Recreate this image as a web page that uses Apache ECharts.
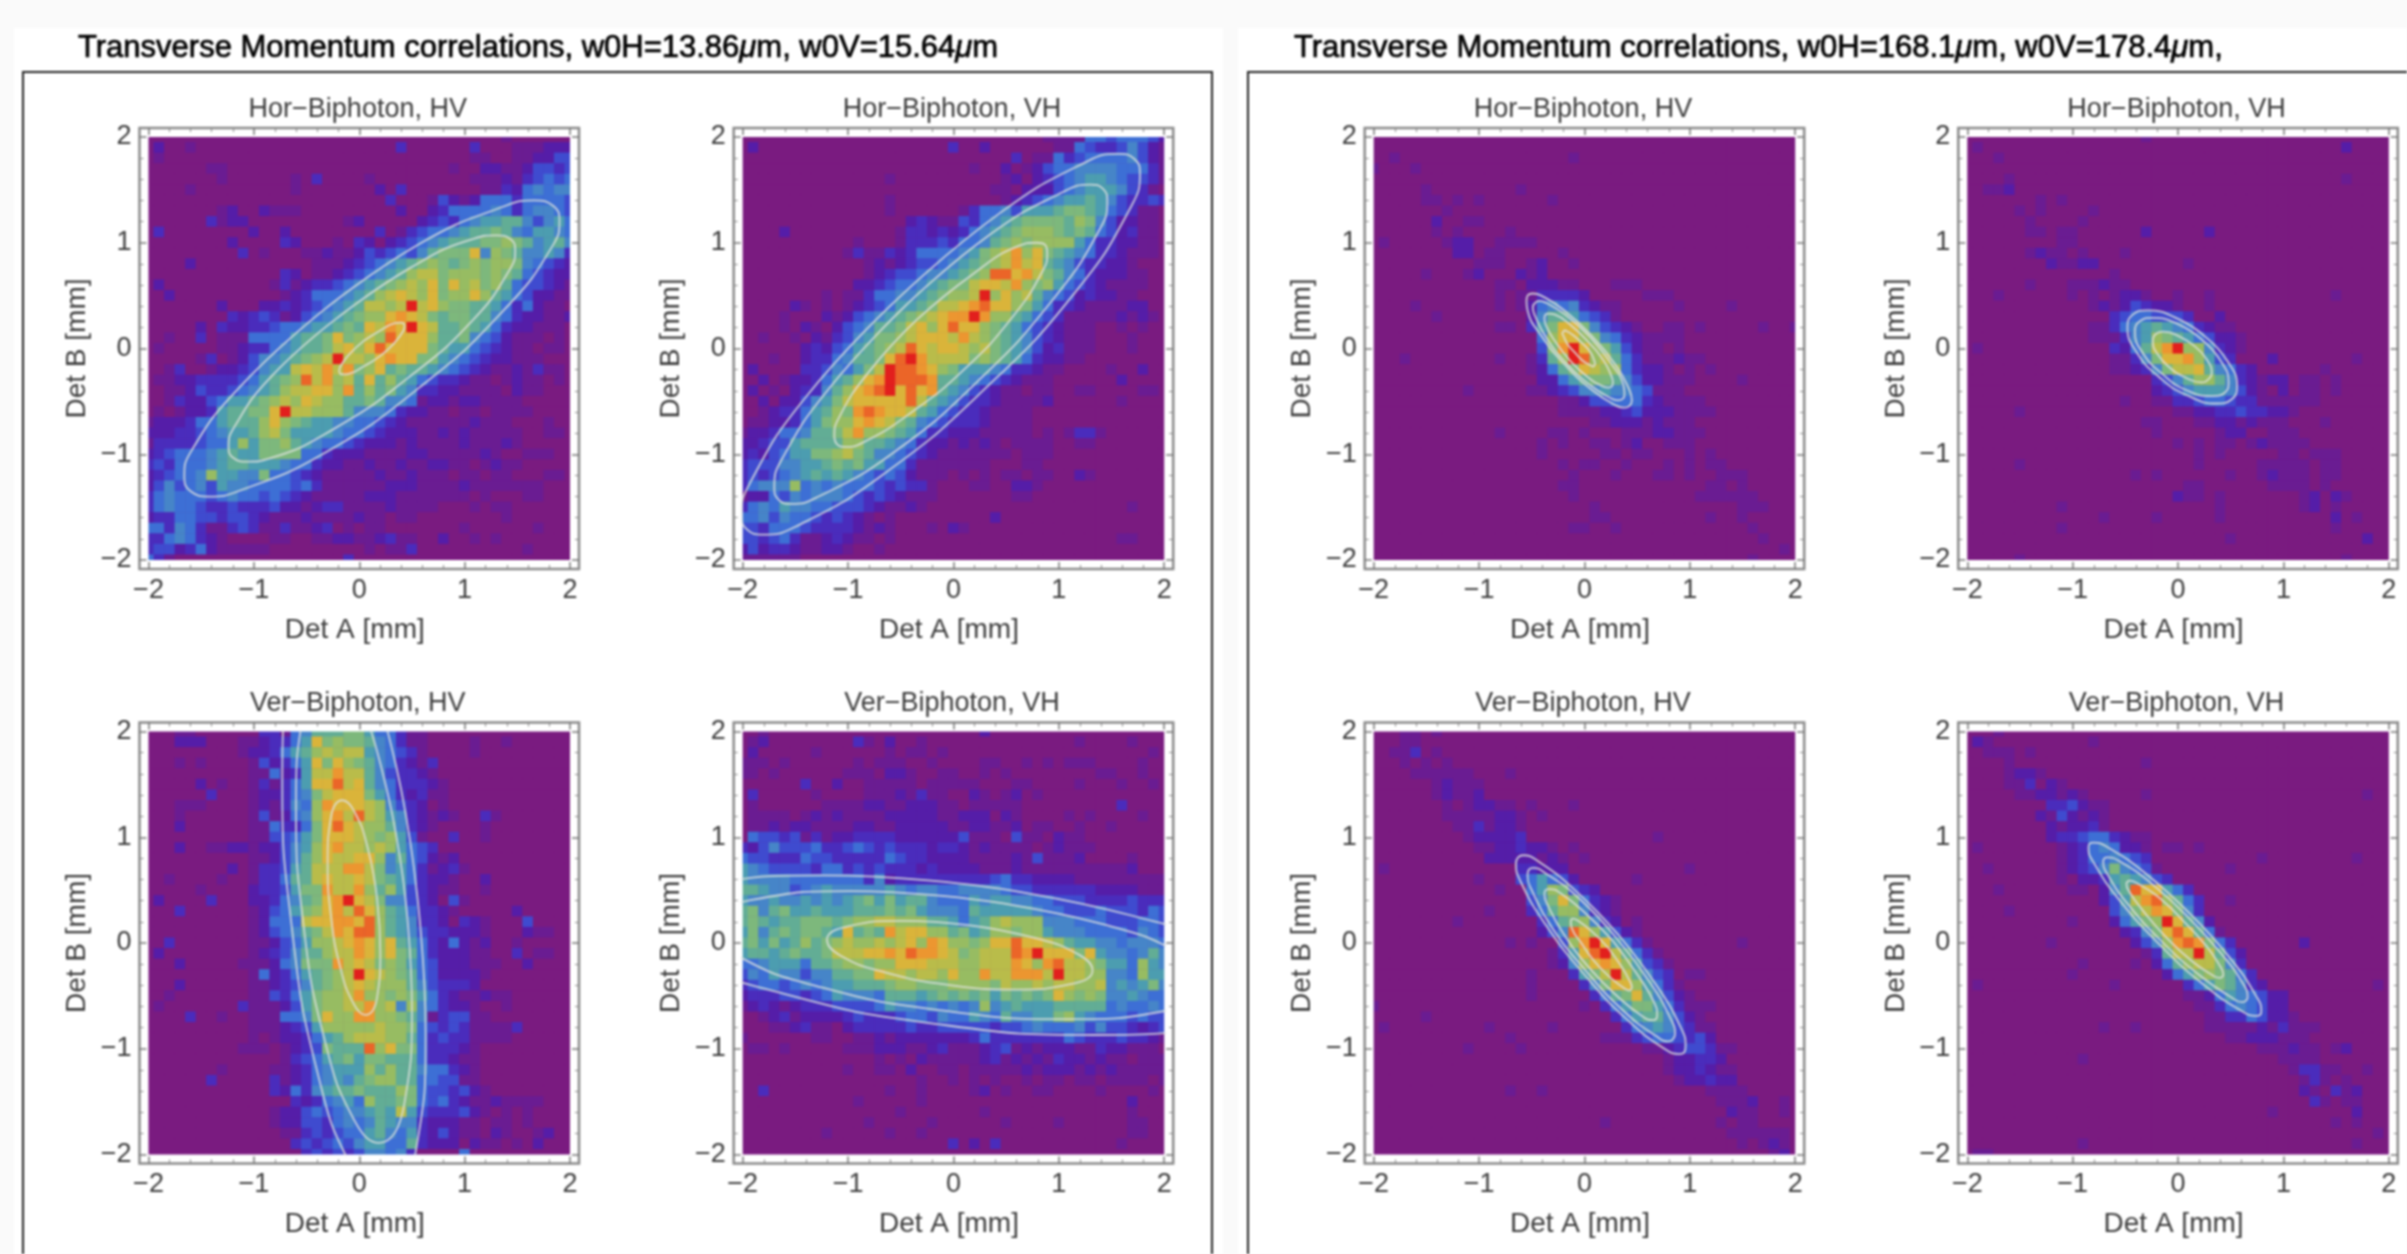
<!DOCTYPE html>
<html><head><meta charset="utf-8">
<style>html,body{margin:0;padding:0;background:#fafafa;overflow:hidden}#c{width:2407px;height:1254px;filter:blur(0.8px)}</style>
<script src="https://cdn.jsdelivr.net/npm/echarts@6/dist/echarts.min.js"></script>
</head><body><div id="c"></div>
<script>
const binLabels=[];for(let i=0;i<41;i++)binLabels.push(String(i));
const colorRamp=['#7A1B80','#6A1C92','#551DA8','#4A2CBC','#3F4BCF','#3D6FD5','#4685C8','#4C9DB0','#62AD95','#7DB87C','#97BC62','#B9BC4A','#DAB43A','#EC9630','#EB6528','#E21F1D'];
const titleLeft=['Transverse Momentum correlations, w0H=13.86','m, w0V=15.64','m'];
const titleRight=['Transverse Momentum correlations, w0H=168.1','m, w0V=178.4','m,'];
const plotTitles=['Hor\u2212Biphoton, HV','Hor\u2212Biphoton, VH','Ver\u2212Biphoton, HV','Ver\u2212Biphoton, VH'];

const wideHorHV=[
"0000000000 0000000000 0000000000 0000100000 0",
"0200100000 0000000000 0000300000 0300011122 2",
"0100000000 0000000000 0000000000 0110011224 4",
"0000001100 0000000000 0000000001 0022112443 4",
"0000000100 0000103000 0100000000 0111213454 5",
"0000100000 0000100000 0020300000 0011325656 6",
"0000000000 0000000000 0003000142 1255535555 4",
"0000000120 0211100000 0000200235 5556535665 4",
"0000003122 0000000001 2000002343 5677886467 5",
"0300000000 2002000000 0030134556 7889865776 5",
"0000000020 0003200010 3202345678 8899a98678 6",
"0000000003 0100011211 2434546899 9c6a986676 3",
"0000200000 0000001112 3456789a98 9a9aa96543 2",
"0000000000 0003201123 45678abb9a aa9a985432 2",
"0200000000 0013123345 6789abac9c ab9a854432 1",
"0020000000 0001235556 78abcbac9a aca8754221 1",
"0000000200 0223234567 8bbabfbca9 9887535211 0",
"0000000032 3431245678 9aacdcb989 9886532211 2",
"0000020322 3345567789 8cbdcfcb88 9875322111 0",
"0010030111 55557889c9 abaeccca88 9654211101 0",
"0100000112 33567889bc acecccc987 7543211011 0",
"0000013012 466789abfb bacdcc9976 5432211100 0",
"0013001223 4677bcbdbd 9ac8988765 4321121311 0",
"0112233334 5789aebdab 8c8a875433 2110121101 0",
"0011243345 678abbccad 8a89763322 1111021100 0",
"0013224577 89abacbaa8 8986651221 2211110000 0",
"0101223788 99cfbbaaa8 6665322110 1101111000 0",
"1222355788 8aca987766 5543211111 1211100010 0",
"2223345677 8ab9777765 5432221121 2111110011 0",
"133334557a 799a876554 3222121111 2111210000 0",
"2345556787 7999955322 2111122111 1121001110 0",
"3435556788 7776553221 1211211221 1012110000 0",
"234556a776 6955432111 1121121110 1101100011 0",
"2464564766 5555453111 1112221111 2111111100 0",
"3565554565 5454321111 1222111111 1010001100 0",
"3565543343 3342212331 1112111100 0101100000 0",
"2335544344 3211121111 2110110000 0000100000 0",
"5536531134 3113112301 0110000000 1000000100 0",
"3356532100 0011001122 1123110020 0101000000 0",
"3442352111 1100000000 0101130000 0000001000 0",
"5310000000 0000000003 0000000000 0000000000 0"];

const wideHorVH=[
"0000000000 0000000000 0000000001 1115545554 2",
"0200000000 0000000000 3002000000 1154334642 1",
"0000000000 0000000000 0000003011 5345555642 1",
"0000000000 0000000000 0010020124 5566665553 1",
"0000000000 0000100000 0000012023 4567765443 1",
"0000000000 0000000000 0000110222 4567776431 0",
"0000000000 0000100000 0000012345 6778764334 3",
"0000000000 0000100000 0135564777 8998754311 0",
"0000000000 0000002321 1435678999 98a9642211 0",
"0000200000 0000013323 2356789aaa 9898542311 0",
"0000000000 0100013334 355689a9aa aa75332211 0",
"0000000000 1311323555 5679abdac9 8765332111 0",
"0000000000 0012123445 6789abdbc8 7643322100 0",
"0000000000 0012344566 789aeecdb9 8653222110 0",
"0000000000 0223455678 99bccbda9a 7543211110 0",
"0000000010 1135566789 aabfacab86 5423221100 0",
"0000021010 123457789b bcdecca975 3321111220 0",
"0000100021 2456789abc ddfdaa8754 3111112121 0",
"0000102102 456889bcac ecca987543 2111001010 0",
"0010010213 46799abccc bdba987643 2111000100 0",
"0000002324 5789abecbc cbab987642 3111000100 0",
"0001002335 6889cefdbb bb9a987532 2110000000 0",
"0200003346 579bfeedca 9777653321 1000010020 0",
"0020122357 8acdfeeed8 8765432111 0000002000 0",
"0201023368 acdefcecd8 7643211011 0011000011 0",
"0020224679 bccccceb87 6433211112 0000001000 0",
"001233578a 9dedccb875 4332111100 0000000000 0",
"011223579a acdcb98654 3332111100 0000000000 0",
"1223556889 bdaa987533 2221111101 0133100000 0",
"2234478888 aa88765322 1212101111 0011000000 0",
"232457799a b986654321 1111110111 0000000000 0",
"3444667789 8977553111 1111000110 0000000000 0",
"3434567878 7654542111 0101011011 0021000000 0",
"35666a5656 5554343310 0011002210 0000000000 0",
"1225465666 5434321110 0000001100 0000000000 0",
"3565766554 4432112100 0000000000 0000000100 0",
"5564655434 3210100000 0000200000 0000000000 0",
"4435554333 3212100010 2100000000 0000000000 0",
"4434531123 2110100000 0000000000 0000001100 0",
"2423321122 1001000000 0000000000 0000000000 0",
"1111110000"];

const wideVerHV=[
"0001100000 0331568889 9755311000 0000000000 0",
"0002220001 123357c9a9 9865311000 0100100000 0",
"0000000001 223578abab b765431000 0100000000 0",
"0001010000 142357c9ca 9865321300 0000000000 0",
"0000000000 115237bbdb b864332100 0000000000 0",
"0000020100 131357cceb c865333210 0000000000 0",
"0000003000 1223569bcc c975323110 0000000000 0",
"0001110000 121365adcc cba6432010 0000000000 0",
"0001000000 141256acdb eba7632121 0031000000 0",
"0002000000 1153359cec baa8632100 0010000000 0",
"0000000000 1144579ccc ba9a741003 0010000000 0",
"0002001122 122467acdb baba754300 0000000000 0",
"0000000000 112468acbb cca6854212 0000000000 0",
"0000000020 133478bbbd db96753123 1000000000 0",
"0010000100 133588bcbb cb98753221 0020000000 0",
"0000010000 2334799dbb da8a743211 0010000000 0",
"0200003000 2235689cdf cb96643204 1000000000 0",
"0003000000 124579acdb eca8753321 0000020000 0",
"0000000000 12555bccdd cea8763320 3210004000 0",
"0000000000 1245689bdc eea8764332 2210002110 0",
"0030000000 112457aabc dcac875325 2120010000 0",
"0200000000 1234688abb dcac985322 2110030110 0",
"0002000001 11256999db cb9a975422 2111002000 0",
"0000000000 15235789ab fcba985422 2210000000 0",
"0002000000 11234689ab cbaaa86433 3200000000 0",
"0010000000 1143579aab daa9a97532 1121100000 0",
"0100000003 1112479aab bdab6a6532 2100100000 0",
"0000300100 1115569caa ddaa986134 4110000000 0",
"0000000000 1112347aaa aabaa95434 3111130000 0",
"0000000000 101223578a bbbaa85343 3111100000 0",
"0000000001 1101234988 8eac995333 2100000000 0",
"0000000000 0001345789 7998885332 1100000000 0",
"0000000100 0011235677 7a8a886553 2100000000 0",
"0000003000 0031235676 89aa885544 1100000000 0",
"0000000000 0032536788 9888a95443 4210000000 0",
"0000000000 0000323567 5a88995453 2112111100 0",
"0000000000 0012245456 6787b74333 4210101000 0",
"0000000000 0012244356 5687663222 1101101000 0",
"0000000000 0001134345 5786573242 1102100120 0",
"0000000000 0000343454 6775583222 0211010200 0",
"0000000000 0000034343 4665630000 5000000000 0"];

const wideVerVH=[
"0010000000 0000000000 0002000000 0000000000 0",
"0120000000 0310200100 0000000000 0010000100 0",
"0200000100 0000101101 0000000000 0000000001 0",
"1110100000 0101110010 0001100101 0111000010 0",
"1101000000 1110221001 1001010000 0000110010 0",
"0000003002 0011111011 1110001100 0010001001 0",
"0300000100 0011121311 0021012010 0000000000 0",
"0100000011 1122112221 1011111000 0000003000 0",
"0111101212 1111222221 1222021000 0101000010 0",
"0112122111 1221122222 1122112011 0010010000 0",
"0544341312 2333322222 2411104110 2110000000 0",
"3246444533 4543433323 3212111101 2111000000 0",
"5443335443 3333543322 2211112141 1120000100 0",
"7654444355 3434333232 2221112111 1111111200 0",
"7666655555 5536233333 3333453322 2211111111 1",
"8876645676 6666765665 5666654433 3333222211 1",
"7667667676 7897978865 5576776655 4443333433 3",
"8968977877 7888989766 6587777765 5444544435 4",
"8987889998 9aabbaaa88 7578abaaa6 6655544455 4",
"7968989987 c898dbccaa 8978aa9aa7 6665555465 4",
"897978a89a baababcadc aa9acceccb a877665666 5",
"788789889b bbccdceddc b9abbbedfc cc9c766568 6",
"5567775889 aa9aacccbb baabbbdcad ebba9775a7 6",
"4657664668 899cbbabba caadbbdddb fbbaa665a7 7",
"3455456567 78889aa999 aaaa9baaba bbaab67679 6",
"2333443457 6665888789 8989798989 ca9a966765 5",
"1232123334 4445766565 656a678777 8888856556 5",
"0012312222 3433345546 5576586677 9a76555454 4",
"0001123110 2333334334 4444344565 5564644323 4",
"1000000110 0112122222 2235333333 3543334332 1",
"0110100000 1112221123 1112341212 2211322111 0",
"0000000000 0001010211 1112312121 3221211011 1",
"0000000000 1001102001 1011111212 2212121111 1",
"0000000000 0000000100 1010100101 1011011110 1",
"0030000000 0000100100 0012010011 0000100001 0",
"0000000000 0100000100 0000000000 0000000200 0",
"0000000000 0000010000 0001000000 0000000100 0",
"0000000000 0010000010 0000010000 1000000110 0",
"0000000010 0000100100 0000000000 0000000110 0",
"0000000000 0000000000 3020300000 0000001000 0",
""];

const narrowHorHV=[
"","",
"0010000000 0000000001",
"1000100000",
"",
"0000010000 0000100000",
"0000011010 1000000100",
"0000000100",
"0000002001 1000000000",
"0000001010 0001000000",
"0100000122 0011110000",
"0000000022 0110000010",
"0000000000 1110012001",
"0000010001 2000212000",
"0 0000000000 0110222110 0011100000",
"0 0000000000 0101133332 0000011100",
"0 0001000000 0101256563 2110000010 0001000000",
"0 0000010000 0000268875 4310000000",
"0 0000000000 0110379cc9 6432100110 1000001001",
"0 0000000000 000005acca 9653211110",
"0 0000000000 0000049dfc a974211010",
"0 0010000000 0100138afe ab85311121 1000000000",
"0 0000000000 000012589c baa5322101 0100000000",
"0 0000000000 0000022578 9986422111 0000100000",
"0 0000000010 0000112346 6766541110",
"0 0000000000 0000000112 4455532111 1000000000",
"0 0000000000 0000000111 1223422211 1100000000",
"0000000000 0000000000 0112221211 1000000000",
"0000000000 0010000110 1000111221 1100000000",
"0000000000 0000001010 0110120011 1000000000",
"0000000000 0000001000 0011011000 1010000000",
"0000000000 0000000010 1100100010 1011000000",
"0000000000 0000000001 0001000110 1001110000",
"0000000000 0000000011 0000000000 0011010000",
"0000000000 0000000001 0000000000 0111111000",
"0000000000 0000000000 0100000000 0000011100",
"0000000000 0000000000 0110000000 0010010000",
"0000000000 0000000001 1001000000 0000001000",
"0000000000 0000000000 0000000000 0000000100",
"0000000000 0000000000 0000000000 0000000001",
"0000000000 0000000000 0000000000 0000001000"];

const narrowHorVH=[
"0000000000 0000000100",
"0100000000 0000000000 0000000000 0000002000",
"0001000000",
"",
"0000100000 0000000000 0000000000 0000001000",
"0011200000",
"0000000101",
"0000010100 0010000000",
"0000001000 0100000000",
"0000001101 1000000200 0002000000",
"0000000001 1000000000",
"0000001211 0100010000",
"0000000021 1220000000 0100000000",
"0000000000 0000100000",
"0000001000 1112110000",
"0001000000 1010122100 1001000000 0000010000",
"0000000000 0012124322 1001000000",
"0000000000 0000345544 4300200000",
"0000000000 0011356787 6532110000",
"0000000000 00111367a9 8754221000",
"0100000000 00003258bd faa6321000",
"0000000000 000011369c cda7430002 0000000100",
"0000000000 0000112369 bbc8653200 0000100000",
"0000000000 0000000034 68aa863212 2011010000",
"0000000000 0000000023 4677764210 2011010000",
"0000000000 0000010011 3345543311 1111000000",
"0000010000 0000000000 1122334332 2100000000",
"0000000000 0000000110 0011221211 1000100000",
"0000000000 0000000010 0000122001 1100000000",
"0000000000 0000000000 1010110121 1110000000",
"0000000000 0000000000 0010100000 1101110000",
"0000010000 0000000000 0010000011 1110110000",
"0000000000 0000001010 0000010012 1110110000",
"0000000000 0000000000 0110000001 1110100000",
"0000000000 0000000000 2110100000 0012021000",
"0000000001 0000000000 0000100000 0012010000",
"0000000000 0001000010 0000100000 0000020100",
"0000000001 0000000000 0000000000 0000010000",
"0000000000 0000000000 0000010000 0000000020",
"",
"0000010000 0000000000 0000000000 0000001000"];

const narrowVerHV=[
"0001101000",
"0001100000",
"0011301000",
"0001010100",
"0000111111 0001000000",
"0000001211 1000000000",
"0000001211 2000000000",
"0000000101 2211010001",
"0000000111 1122101000",
"0000000011 3122100000",
"0000000001 2222300000 0000000100",
"0000000000 1122322101",
"0000000000 0222221210 1000000000",
"0100000000 0000332220 0000000000 1000000000",
"0000000000 1000457542 0000010000",
"0000000000 0010057a94 3200000000",
"0000000000 00000469c9 5321000000",
"0000000000 01000358aa 6321000000",
"0000000010 0000003589 a632010000",
"0000000000 000000246e ca74210000",
"0000000000 000101004a dfc7531000 0000010000",
"0000000000 0000000137 cefb853100",
"0000000000 0000000126 acdca74310",
"0000000000 0000010003 79bfb86430 1100000000",
"0000000000 0000010000 369cca7531",
"0000000000 0000010000 03589c8642 1000000000",
"1000000000 0000000000 1035799753 1110000000",
"0000010000 0000000000 0003578864 2100000000",
"0100000000 0100000100 0000356764 3110000000",
"0000000000 0001000000 0011134554 3420000000",
"0000000001 0000100000 0000001123 4431100000",
"0000000000 0000000000 0000000012 2332000000",
"0000000000 0000000000 0000000012 2321100000",
"0000000000 0000000000 0000000001 2232200000",
"0000000000 0001001000 0000000000 0011110000",
"0000000000 0000000000 0000000000 0001112001",
"0000000000 0000000000 0000000000 0000211001",
"0000000000 0000000000 0010000000 0001011000",
"0000000000 0000000000 0000000000 0000111111",
"0000000000 0000000000 0000000000 0000010121",
"0000000000 0000000000 0000000000 0000000012"];

const narrowVerVH=[
"0001000000",
"0210000000 0010000000",
"0011101000",
"0000100000 0000000100",
"0000122100",
"0000113021",
"0000011221 2100000100 0000000000 0000000010",
"0000000033 4211000000",
"0000000214 2121000000",
"0000000021 2231000000",
"0000000023 3455321100",
"0100000001 2356522101 1010000000",
"0000000001 2355654300 0000000010 0000000100",
"0010000001 2346965410 0000010000",
"0000000001 0223787643",
"0001000000 110268ecc7 5300000000",
"0000000000 000247bdea 8530010000",
"0000100000 0000469bdc 9630000000",
"0000000000 10002579af c862000000",
"0000000000 000002369c ec85100000",
"0000000010 000000246a ded9530000 0020000000",
"0000000000 0000000138 bbfb842000",
"0000000000 0100001025 8abb963000",
"0000000000 1000000002 579a985300",
"0100000000 0000100000 0357986320 0000000001",
"0000000000 0000000000 0112576542 2000000000",
"0000000000 0000000000 0011356542 2000000000",
"0000000000 0000000000 0001133542 2100000000",
"0000000000 0001001000 0001111121 3111000000",
"0000000000 0000000000 0000011222 1110000000",
"0000000000 0000000000 0000000011 1211012000",
"0000000000 0100000000 0000000000 1111000000",
"0000000000 0000000000 0000000000 0133110010",
"0000000000 0000000000 0000000000 0013101000",
"0000000000 0000000000 0000000000 0021031200",
"0000000000 0000000000 0000000000 0003101100",
"0000000000 0000000000 0000000001 0000000200",
"0000000000 0000000000 0000000000 0000010100",
"0000000000 0000000000 0000000000 0000000001",
"0000000000 0100000000 0000000000 0000000100",
"0110000000"];

const ringsWideHorHV=[
[[-.33,.37],[.59,1.0],[1.39,1.35],[1.66,1.4],[1.84,1.35],[1.9,1.21],[1.84,.98],[1.37,.36],[.57,-.37],[-.35,-1.0],[-1.15,-1.35],[-1.42,-1.4],[-1.6,-1.35],[-1.66,-1.21],[-1.6,-.98],[-1.13,-.36]],
[[-.22,.28],[.48,.76],[1.09,1.04],[1.3,1.07],[1.44,1.03],[1.48,.93],[1.43,.75],[1.08,.27],[.46,-.28],[-.24,-.76],[-.85,-1.04],[-1.06,-1.07],[-1.2,-1.03],[-1.24,-.93],[-1.19,-.75],[-.84,-.27]],
[[.04,.07],[.2,.17],[.34,.24],[.39,.245],[.42,.24],[.43,.21],[.42,.17],[.34,.06],[.2,-.07],[.04,-.17],[-.1,-.24],[-.15,-.245],[-.18,-.24],[-.19,-.21],[-.18,-.17],[-.1,-.06]]];
const ringsWideHorVH=[
[[-.54,.46],[.44,1.28],[1.27,1.77],[1.57,1.84],[1.72,1.79],[1.77,1.66],[1.69,1.35],[1.17,.55],[.3,-.38],[-.68,-1.2],[-1.51,-1.69],[-1.81,-1.76],[-1.96,-1.71],[-2.01,-1.58],[-1.93,-1.27],[-1.41,-.47]],
[[-.47,.39],[.35,1.08],[1.04,1.48],[1.3,1.55],[1.42,1.51],[1.46,1.39],[1.39,1.13],[.95,.47],[.23,-.31],[-.59,-1.0],[-1.28,-1.4],[-1.54,-1.47],[-1.66,-1.43],[-1.7,-1.31],[-1.63,-1.05],[-1.19,-.39]],
[[-.35,.27],[.18,.7],[.62,.97],[.79,1.0],[.87,.98],[.89,.9],[.85,.74],[.57,.31],[.11,-.19],[-.42,-.62],[-.86,-.89],[-1.03,-.93],[-1.11,-.9],[-1.13,-.83],[-1.09,-.66],[-.81,-.23]]];
const ringsWideVerHV=[
[[.17,.41],[.08,.9],[-.05,1.25],[-.16,1.35],[-.27,1.18],[-.3,.77],[-.27,.27],[-.18,-.23],[-.05,-.58],[.06,-.68],[.17,-.51],[.2,-.1]],
[[.43,.49],[.23,1.58],[-.05,2.34],[-.29,2.56],[-.53,2.18],[-.6,1.3],[-.53,.18],[-.33,-.91],[-.05,-1.67],[.19,-1.89],[.43,-1.51],[.5,-.63]],
[[.54,.53],[.3,1.88],[-.05,2.81],[-.34,3.09],[-.64,2.62],[-.73,1.53],[-.64,.15],[-.4,-1.21],[-.06,-2.14],[.24,-2.42],[.54,-1.95],[.63,-.86]]];
const ringsWideVerVH=[
[[.14,.17],[.76,.05],[1.19,-.11],[1.32,-.26],[1.11,-.39],[.61,-.44],[-.02,-.4],[-.64,-.28],[-1.07,-.12],[-1.2,.03],[-.99,.16],[-.49,.21]],
[[.21,.41],[1.37,.19],[2.17,-.11],[2.42,-.38],[2.02,-.64],[1.1,-.72],[-.09,-.64],[-1.25,-.42],[-2.05,-.12],[-2.3,.15],[-1.9,.41],[-.98,.49]],
[[.25,.54],[1.69,.26],[2.7,-.11],[3.0,-.45],[2.51,-.77],[1.35,-.87],[-.13,-.77],[-1.57,-.49],[-2.58,-.12],[-2.88,.22],[-2.39,.54],[-1.23,.64]]];
const ringsNarrowHorHV=[
[[.07,.12],[-.19,.36],[-.41,.5],[-.49,.52],[-.54,.5],[-.55,.45],[-.54,.36],[-.41,.12],[-.18,-.16],[.08,-.4],[.3,-.54],[.38,-.56],[.43,-.54],[.45,-.49],[.43,-.4],[.3,-.16]],
[[.06,.1],[-.17,.31],[-.36,.43],[-.43,.45],[-.47,.43],[-.49,.39],[-.47,.31],[-.36,.1],[-.17,-.14],[.06,-.35],[.25,-.47],[.32,-.49],[.37,-.47],[.38,-.43],[.37,-.35],[.25,-.14]],
[[.03,.07],[-.14,.23],[-.28,.32],[-.34,.33],[-.37,.32],[-.38,.285],[-.37,.23],[-.28,.07],[-.14,-.11],[.03,-.27],[.18,-.36],[.23,-.37],[.26,-.36],[.27,-.32],[.26,-.27],[.18,-.11]],
[[-.01,.04],[-.1,.12],[-.16,.16],[-.19,.17],[-.2,.16],[-.21,.145],[-.2,.12],[-.16,.04],[-.09,-.04],[-.01,-.12],[.06,-.16],[.08,-.17],[.095,-.16],[.1,-.145],[.095,-.12],[.06,-.04]]];
const ringsNarrowHorVH=[
[[.26,.11],[0,.28],[-.29,.36],[-.43,.32],[-.48,.2],[-.39,-.04],[-.18,-.27],[.08,-.44],[.37,-.52],[.51,-.48],[.56,-.36],[.47,-.12]],
[[.23,.08],[0,.23],[-.24,.29],[-.36,.26],[-.41,.16],[-.33,-.05],[-.15,-.24],[.07,-.39],[.32,-.45],[.44,-.42],[.48,-.32],[.4,-.11]],
[[.16,.02],[.02,.11],[-.14,.16],[-.22,.13],[-.24,.07],[-.19,-.06],[-.08,-.18],[.06,-.27],[.22,-.32],[.29,-.29],[.32,-.23],[.27,-.1]]];
const ringsNarrowVerHV=[
[[.32,.08],[-.1,.51],[-.45,.78],[-.58,.83],[-.63,.81],[-.65,.755],[-.61,.59],[-.38,.19],[0,-.3],[.41,-.73],[.76,-1.0],[.9,-1.05],[.95,-1.03],[.96,-.975],[.92,-.81],[.69,-.41]],
[[.3,.05],[-.06,.43],[-.37,.66],[-.49,.71],[-.53,.69],[-.54,.64],[-.5,.5],[-.31,.15],[.02,-.27],[.38,-.65],[.68,-.88],[.8,-.93],[.84,-.91],[.86,-.86],[.82,-.72],[.62,-.37]],
[[.27,.02],[-.01,.3],[-.24,.48],[-.33,.51],[-.37,.5],[-.38,.46],[-.35,.36],[-.2,.09],[.05,-.24],[.33,-.52],[.56,-.7],[.65,-.73],[.68,-.72],[.69,-.68],[.67,-.58],[.51,-.31]],
[[.22,-.04],[.07,.11],[-.06,.21],[-.11,.23],[-.125,.22],[-.13,.2],[-.12,.14],[-.03,0],[.1,-.18],[.25,-.33],[.38,-.43],[.43,-.45],[.44,-.44],[.45,-.42],[.43,-.36],[.35,-.22]]];
const ringsNarrowVerVH=[
[[.12,.27],[-.31,.66],[-.66,.9],[-.8,.95],[-.84,.94],[-.85,.9],[-.8,.76],[-.56,.41],[-.17,-.02],[.25,-.4],[.6,-.64],[.74,-.69],[.78,-.68],[.79,-.64],[.74,-.5],[.5,-.15]],
[[.09,.25],[-.26,.57],[-.55,.77],[-.67,.81],[-.7,.8],[-.71,.77],[-.67,.65],[-.47,.36],[-.15,.01],[.21,-.31],[.5,-.51],[.61,-.56],[.65,-.54],[.66,-.51],[.62,-.39],[.41,-.1]],
[[.05,.21],[-.18,.43],[-.38,.56],[-.46,.59],[-.48,.58],[-.49,.56],[-.46,.48],[-.32,.29],[-.11,.05],[.13,-.17],[.32,-.3],[.4,-.33],[.42,-.32],[.43,-.3],[.4,-.22],[.27,-.03]]];

const gridsByPanel=[wideHorHV,wideHorVH,wideVerHV,wideVerVH,narrowHorHV,narrowHorVH,narrowVerHV,narrowVerVH];
const ringsByPanel=[ringsWideHorHV,ringsWideHorVH,ringsWideVerHV,ringsWideVerVH,ringsNarrowHorHV,ringsNarrowHorVH,ringsNarrowVerHV,ringsNarrowVerVH];

/* layout (styling only) */
const colX=[148.5,742.7,1373.7,1967.3], rowY=[137,731.5], W=421.5, H=423, PAD=9;
const panelPos=[[0,0],[1,0],[0,1],[1,1],[2,0],[3,0],[2,1],[3,1]];
const FONT='"Liberation Sans",Arial,sans-serif';
const INK='#3c3c3c';

function cellsOf(rows){const out=[];for(let r=0;r<41;r++){const t=(rows[r]||'').replace(/ /g,'');for(let c=0;c<41;c++){out.push([c,40-r,parseInt(t[c]||'0',16)]);}}return out;}
const fmt=v=>String(v).replace('-','\u2212');

const grid=[],xAxis=[],yAxis=[],series=[],title=[],graphic=[];
const heatIdx=[];
graphic.push({type:'rect',z:-10,shape:{x:0,y:0,width:2407,height:1254},style:{fill:'#fafafa'},silent:true});
graphic.push({type:'rect',z:-9,shape:{x:14,y:28,width:1209,height:1226},style:{fill:'#fff'},silent:true});
graphic.push({type:'rect',z:-9,shape:{x:1238,y:28,width:1169,height:1226},style:{fill:'#fff'},silent:true});
graphic.push({type:'rect',z:-8,shape:{x:23,y:72,width:1189,height:1300},style:{fill:'none',stroke:'#222',lineWidth:2},silent:true});
graphic.push({type:'rect',z:-8,shape:{x:1248,y:72,width:1300,height:1300},style:{fill:'none',stroke:'#222',lineWidth:2},silent:true});

panelPos.forEach((p,i)=>{
  const L=colX[p[0]],T=rowY[p[1]];
  const g0=grid.length;
  const rect={left:L,top:T,width:W,height:H,outerBoundsMode:'none',containLabel:false};
  grid.push(Object.assign({},rect),Object.assign({},rect));
  const base={gridIndex:g0+1,type:'value',min:-2,max:2,interval:1,offset:PAD,z:5,silent:true,
    axisLine:{show:false,onZero:false},splitLine:{show:false},
    axisTick:{show:true,inside:true,length:7,lineStyle:{color:'#777',width:1.5}},
    minorTick:{show:true,splitNumber:5,length:4,lineStyle:{color:'#888',width:1}}};
  const labelled={show:true,fontFamily:FONT,fontSize:27,color:INK,margin:8,formatter:fmt};
  const nameStyle={fontFamily:FONT,fontSize:28,color:INK};
  const xi=xAxis.length,yi=yAxis.length;
  xAxis.push({gridIndex:g0,type:'category',boundaryGap:false,data:binLabels,show:false});
  xAxis.push(Object.assign({},base,{position:'bottom',axisLabel:labelled,name:'Det A [mm]',nameLocation:'middle',nameGap:47,nameTextStyle:Object.assign({padding:[0,9,0,0]},nameStyle)}));
  xAxis.push(Object.assign({},base,{position:'top',axisLabel:{show:false}}));
  yAxis.push({gridIndex:g0,type:'category',boundaryGap:false,data:binLabels,show:false});
  yAxis.push(Object.assign({},base,{position:'left',axisLabel:labelled,name:'Det B [mm]',nameLocation:'middle',nameGap:48,nameRotate:90,nameTextStyle:nameStyle}));
  yAxis.push(Object.assign({},base,{position:'right',axisLabel:{show:false}}));
  heatIdx.push(series.length);
  series.push({type:'heatmap',xAxisIndex:xi,yAxisIndex:yi,data:cellsOf(gridsByPanel[i]),z:2,progressive:0,silent:true,animation:false,emphasis:{disabled:true}});
  ringsByPanel[i].forEach(pts=>{
    series.push({type:'line',xAxisIndex:xi+1,yAxisIndex:yi+1,data:pts.concat([pts[0]]),showSymbol:false,symbol:'none',smooth:0.5,clip:true,z:4,silent:true,animation:false,
      lineStyle:{color:'rgba(222,226,222,0.85)',width:1.8}});
  });
  title.push({text:plotTitles[i%4],left:L+W/2-6.5,top:T-46,textAlign:'center',textStyle:{fontFamily:FONT,fontSize:27,fontWeight:'normal',color:INK}});
  graphic.push({type:'rect',z:1,shape:{x:L,y:T,width:W,height:H},style:{fill:colorRamp[0]},silent:true});
  graphic.push({type:'rect',z:3,shape:{x:L-5.5,y:T-5.5,width:W+11,height:H+11},style:{fill:'none',stroke:'#fff',lineWidth:11},silent:true});
  graphic.push({type:'rect',z:4,shape:{x:L-PAD,y:T-PAD,width:W+2*PAD,height:H+2*PAD},style:{fill:'none',stroke:'#8a8a8a',lineWidth:2.5},silent:true});
});
function mainTitle(parts,left){
  const a={fontFamily:FONT,fontSize:31,fontWeight:'normal',color:'#000',textBorderColor:'#000',textBorderWidth:0.7};
  const rich={a:a,i:Object.assign({},a,{fontStyle:'italic'})};
  return {text:'{a|'+parts[0]+'}{i|\u03bc}{a|'+parts[1]+'}{i|\u03bc}{a|'+parts[2]+'}',left:left,top:28,textStyle:{fontWeight:'normal',rich:rich}};
}
title.push(mainTitle(titleLeft,73),mainTitle(titleRight,1289));

const chart=echarts.init(document.getElementById('c'),null,{width:2407,height:1254,renderer:'canvas'});
chart.setOption({animation:false,backgroundColor:'#fafafa',tooltip:{show:false},
  title:title,grid:grid,xAxis:xAxis,yAxis:yAxis,series:series,graphic:{elements:graphic},
  visualMap:{show:false,type:'continuous',min:0,max:15,dimension:2,seriesIndex:heatIdx,inRange:{color:colorRamp}}});
</script></body></html>
